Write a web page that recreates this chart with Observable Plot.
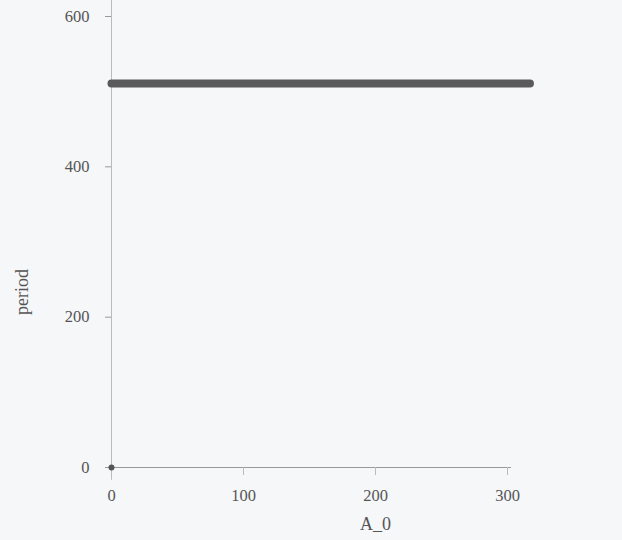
<!DOCTYPE html>
<html>
<head>
<meta charset="utf-8">
<script src="https://cdn.jsdelivr.net/npm/d3@7"></script>
<script src="https://cdn.jsdelivr.net/npm/@observablehq/plot@0.6"></script>
<style>
  html, body { margin: 0; padding: 0; background: #f6f7f9; }
</style>
</head>
<body>
<div id="chart"></div>
<script>
const aValues = [0, 317];
const periodValues = [511, 511];
const pointA = [0];
const pointPeriod = [0];
const xTicks = [0, 100, 200, 300];
const yTicks = [0, 200, 400, 600];

const lineData = aValues.map((a, i) => ({A_0: a, period: periodValues[i]}));
const pointData = pointA.map((a, i) => ({A_0: a, period: pointPeriod[i]}));

const chart = Plot.plot({
  width: 622,
  height: 540,
  marginLeft: 111,
  marginRight: 115,
  marginTop: 16,
  marginBottom: 73,
  style: {background: "#f6f7f9", fontFamily: "Liberation Serif, serif", fontSize: "16.5px", color: "#555"},
  x: {domain: [0, 300]},
  y: {domain: [0, 600]},
  marks: [
    Plot.ruleY([0], {stroke: "#999", strokeWidth: 1, x1: 0, x2: 303}),
    Plot.ruleX([0], {stroke: "#bbb", strokeWidth: 1, y1: -17, y2: 630}),
    Plot.axisX({ticks: xTicks, tickSize: 8, tickPadding: 14, stroke: "#bbb", fill: "#555", label: null}),
    Plot.axisY({ticks: yTicks, tickSize: 6, tickPadding: 16, stroke: "#999", fill: "#555", label: null}),
    Plot.text(["A_0"], {frameAnchor: "bottom", dy: 62, fontSize: 18, fill: "#555", x: () => 200, textAnchor: "middle"}),
    Plot.text(["period"], {frameAnchor: "left", dx: -89, dy: 50, rotate: -90, fontSize: 18, fill: "#555", textAnchor: "middle"}),
    Plot.line(lineData, {x: "A_0", y: "period", stroke: "#5a5a5c", strokeWidth: 8, strokeLinecap: "round"}),
    Plot.dot(pointData, {x: "A_0", y: "period", r: 3, fill: "#555"})
  ]
});
document.getElementById("chart").appendChild(chart);
</script>
</body>
</html>
